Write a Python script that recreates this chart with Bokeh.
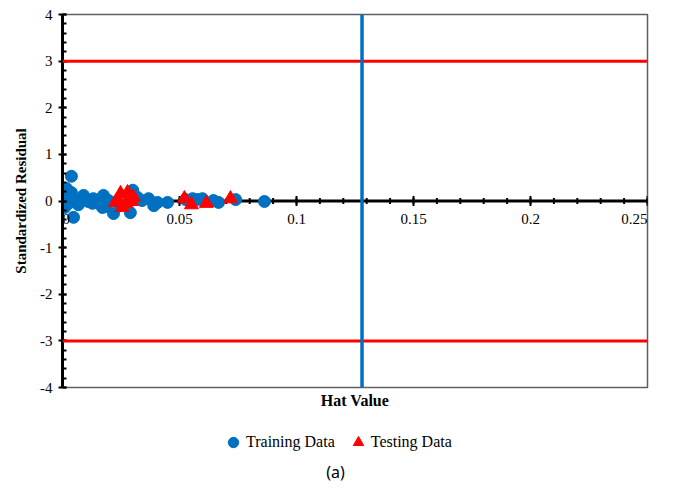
import numpy as np
from bokeh.plotting import figure
from bokeh.layouts import column
from bokeh.models import (Range1d, FixedTicker, CustomJSTickFormatter, Span,
                          Legend, LegendItem, Label)
from bokeh.embed import file_html
from bokeh.resources import INLINE

# ---- data ----
train_hat = [0.0038, 0.0038, 0.0004, 0.0009, 0.0047, 0.0017, 0.0026, 0.0056,
             0.0090, 0.0110, 0.0132, 0.0154, 0.0175, 0.0171, 0.0197, 0.0218,
             0.0248, 0.0290, 0.0300, 0.0320, 0.0340, 0.0368, 0.0390, 0.0406,
             0.0449, 0.0526, 0.0556, 0.0577, 0.0598, 0.0645, 0.0667, 0.0740,
             0.0863, 0.0034, 0.0005, 0.0017, 0.0068, 0.0128, 0.0184, 0.0090]
train_res = [0.53, 0.18, 0.01, -0.14, -0.35, 0.12, -0.05, 0.01,
             0.12, -0.01, 0.05, -0.05, 0.12, -0.14, 0.01, -0.27,
             -0.10, -0.25, 0.23, 0.08, 0.01, 0.05, -0.10, -0.03,
             -0.03, 0.03, 0.05, 0.03, 0.05, 0.01, -0.03, 0.03,
             -0.01, 0.12, -0.10, 0.27, -0.08, -0.05, -0.12, 0.08]
test_hat = [0.0248, 0.0278, 0.0303, 0.0226, 0.0256, 0.0240, 0.0270, 0.0295,
            0.0521, 0.0551, 0.0615, 0.0718]
test_res = [0.16, 0.18, 0.08, -0.03, -0.14, 0.01, -0.05, -0.01,
            0.05, -0.08, -0.05, 0.05]

x_ticks = [0, 0.05, 0.1, 0.15, 0.2, 0.25]
x_tick_labels = ["0", "0.05", "0.1", "0.15", "0.2", "0.25"]
y_ticks = [-4, -3, -2, -1, 0, 1, 2, 3, 4]
hat_limit = 0.128          # critical hat value (vertical line)
res_limits = [3, -3]       # +/- 3 standardized residual

series_names = ["Training Data", "Testing Data"]
x_title = "Hat Value"
y_title = "Standardized Residual"
caption = "(a)"

BLUE = "#0070C0"
RED = "#FF0000"
SERIF = "Liberation Serif"

x_minor = list(np.round(np.arange(x_ticks[0], x_ticks[-1] + 1e-9, 0.01), 4))
y_minor = list(np.round(np.arange(y_ticks[0], y_ticks[-1] + 1e-9, 0.2), 4))
# end labels are kept inside the frame so they are not clipped
x_label_align = ["left"] + ["center"] * (len(x_ticks) - 2) + ["right"]

W = 677
H_MAIN = 423
H_LEG = 70

p = figure(width=W, height=H_MAIN,
           x_range=Range1d(x_ticks[0], x_ticks[-1]),
           y_range=Range1d(y_ticks[0], y_ticks[-1]),
           output_backend="svg", toolbar_location=None,
           min_border_left=62, min_border_right=30,
           min_border_top=14, min_border_bottom=36)
p.grid.visible = False
p.outline_line_color = "#5f5f5f"
p.outline_line_width = 1.5
p.background_fill_color = "white"
p.border_fill_color = "white"

# bottom axis: only carries the title
xa = p.xaxis[0]
xa.ticker = FixedTicker(ticks=[])
xa.axis_line_color = None
xa.major_tick_line_color = None
xa.minor_tick_line_color = None
xa.major_tick_out = 0
xa.major_tick_in = 0
xa.axis_label = x_title
xa.axis_label_text_font = SERIF
xa.axis_label_text_font_size = "16px"
xa.axis_label_text_font_style = "bold"
xa.axis_label_text_color = "black"
xa.axis_label_standoff = 4

ya = p.yaxis[0]
ya.ticker = FixedTicker(ticks=y_ticks, minor_ticks=y_minor)
ya.formatter = CustomJSTickFormatter(code="return String(tick);")
ya.axis_line_width = 3
ya.axis_line_color = "black"
ya.major_tick_in = 4
ya.major_tick_out = 4
ya.minor_tick_in = 4
ya.minor_tick_out = 0
ya.major_tick_line_width = 2
ya.minor_tick_line_width = 2
ya.major_label_standoff = 6
ya.major_label_text_font = SERIF
ya.major_label_text_font_size = "15px"
ya.major_label_text_color = "black"
ya.axis_label = y_title
ya.axis_label_text_font = SERIF
ya.axis_label_text_font_size = "15px"
ya.axis_label_text_font_style = "bold"
ya.axis_label_text_color = "black"
ya.axis_label_standoff = 8

# x axis crossing at residual = 0 (line, ticks, labels)
p.segment(x0=[x_ticks[0]], y0=[0], x1=[x_ticks[-1]], y1=[0],
          line_color="black", line_width=3)
p.scatter(x=x_minor, y=[0] * len(x_minor), marker="dash", angle=np.pi / 2,
          size=6, line_color="black", line_width=2)
p.scatter(x=x_ticks, y=[0] * len(x_ticks), marker="dash", angle=np.pi / 2,
          size=10, line_color="black", line_width=2)

# reference lines
for v in res_limits:
    p.add_layout(Span(location=v, dimension="width", line_color=RED, line_width=3))
p.add_layout(Span(location=hat_limit, dimension="height", line_color=BLUE, line_width=3.5))

p.scatter(train_hat, train_res, marker="circle", size=12,
          fill_color=BLUE, line_color=BLUE)
p.scatter(test_hat, test_res, marker="triangle", size=14,
          fill_color=RED, line_color=RED)

p.text(x=x_ticks, y=[0] * len(x_ticks), text=x_tick_labels,
       text_align=x_label_align, text_baseline="top", y_offset=13,
       text_font_size="15px", text_color="black",
       text_font={"value": SERIF})

# ---- legend + caption strip below the chart (frame aligned with chart) ----
q = figure(width=W, height=H_LEG, x_range=Range1d(0, 1), y_range=Range1d(0, 1),
           output_backend="svg", toolbar_location=None,
           x_axis_type=None, y_axis_type=None,
           min_border_left=62, min_border_right=30,
           min_border_top=0, min_border_bottom=0)
q.grid.visible = False
q.outline_line_color = None
q.background_fill_color = "white"
q.border_fill_color = "white"
# hidden copies of the series, only used as legend entries
lr_train = q.scatter(train_hat, train_res, marker="circle", size=12,
                     fill_color=BLUE, line_color=BLUE, visible=False)
lr_test = q.scatter(test_hat, test_res, marker="triangle", size=14,
                    fill_color=RED, line_color=RED, visible=False)
legend = Legend(items=[LegendItem(label=series_names[0], renderers=[lr_train]),
                       LegendItem(label=series_names[1], renderers=[lr_test])],
                orientation="horizontal", location=(158, 38),
                glyph_width=26, glyph_height=26, label_standoff=0, spacing=10,
                padding=0, margin=0, border_line_color=None,
                background_fill_alpha=0, inactive_fill_alpha=0,
                label_text_font=SERIF, label_text_font_size="16px",
                label_text_color="black")
q.add_layout(legend, "center")
q.add_layout(Label(x=273, y=22, x_units="screen", y_units="screen", text=caption,
                   text_align="center", text_baseline="middle",
                   text_font="Noto Sans", text_font_size="16px",
                   text_color="black"))

layout = column(p, q, spacing=0)
open("out.html", "w").write(file_html(layout, INLINE))
